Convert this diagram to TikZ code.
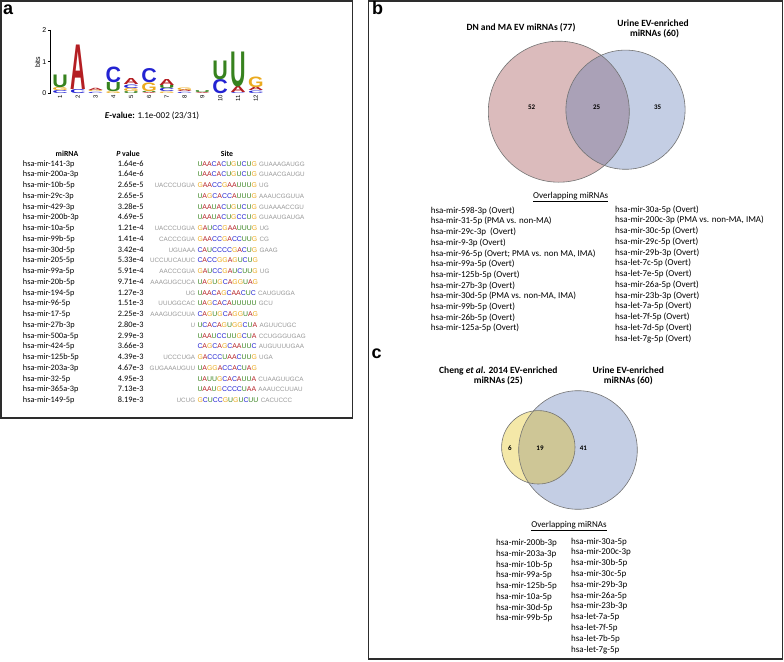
\documentclass[tikz,border=0pt]{standalone}
\usepackage{fontspec}
\setmainfont{Carlito}
\newfontfamily\arialfont{Liberation Sans}
\usepackage{graphicx}
\usepackage{tikz}

\definecolor{ntA}{RGB}{180,30,35}
\definecolor{ntC}{RGB}{35,35,210}
\definecolor{ntG}{RGB}{235,170,30}
\definecolor{ntU}{RGB}{55,130,30}
\definecolor{flank}{RGB}{150,150,150}
\definecolor{framegray}{RGB}{45,45,45}
\definecolor{vennpink}{RGB}{219,187,188}
\definecolor{vennblue}{RGB}{196,206,228}
\definecolor{vennmix}{RGB}{170,161,183}
\definecolor{vennyel}{RGB}{244,232,168}
\definecolor{vennolive}{RGB}{206,198,150}

% colour one nucleotide, then a whole site core
\newcommand\ntcol[1]{\ifx A#1\textcolor{ntA}{A}\else\ifx C#1\textcolor{ntC}{C}\else\ifx G#1\textcolor{ntG}{G}\else\textcolor{ntU}{#1}\fi\fi\fi}
\def\seqloop#1{\ifx\relax#1\else\ntcol{#1}\expandafter\seqloop\fi}
\newcommand\seqcore[1]{\expandafter\seqloop#1\relax}
\newcommand\flanktxt[1]{{\fontsize{6.3}{8}\selectfont\textcolor{flank}{#1}}}

% one logo column: index, letter/height pairs from the bottom
\newcommand\logocol[2]{%
  \xdef\ybase{93.3}%
  \foreach \l/\h in {#2}{%
    \node[logoletter, text=nt\l] (col#1-\l) at ({60+(#1-1)*17.8},\ybase) {\resizebox{15.5pt}{\h pt}{\l}};
    \pgfmathparse{\ybase-\h}\xdef\ybase{\pgfmathresult}%
  }%
}

\begin{document}
\begin{tikzpicture}[x=1pt,y=-1pt,
  panel/.style={draw=framegray, line width=1.6pt},
  tag/.style={anchor=base west, inner sep=0pt, font=\arialfont\bfseries\fontsize{18}{20}\selectfont},
  logoletter/.style={anchor=south, inner sep=0pt, text depth=0pt, font=\arialfont\bfseries},
  posnum/.style={anchor=east, rotate=90, inner sep=0pt, font=\arialfont\fontsize{6}{7}\selectfont},
  axlabel/.style={inner sep=0pt, font=\arialfont\fontsize{7}{8}\selectfont},
  tabtxt/.style={anchor=base west, inner sep=0pt, font=\fontsize{8.3}{10}\selectfont},
  tabhead/.style={anchor=base, inner sep=0pt, font=\bfseries\fontsize{7.8}{9}\selectfont},
  seqtxt/.style={anchor=base west, inner sep=0pt, font=\arialfont\fontsize{6.9}{8}\selectfont},
  venntitle/.style={anchor=base, inner sep=0pt, font=\bfseries\fontsize{9.5}{11}\selectfont},
  vennnum/.style={inner sep=0pt, font=\bfseries\fontsize{7}{8}\selectfont},
  vennline/.style={draw=black!55, line width=0.6pt},
  listhead/.style={anchor=base, inner sep=0pt, font=\fontsize{9}{11}\selectfont},
  listtxt/.style={anchor=base west, inner sep=0pt, font=\fontsize{9}{10.7}\selectfont}
]
\useasboundingbox (0,0) rectangle (784,661);

% frames
\draw[panel] (1.2,1.2) rectangle (352.3,417.7);
\draw[panel] (368.3,1.2) rectangle (782.3,659);
\node[tag] (taga) at (3,14.5) {a};
\node[tag] (tagb) at (372,14.5) {b};
\node[tag] (tagc) at (371.5,358.3) {c};

% a: motif logo
\draw[line width=0.8pt] (50.5,30) -- (50.5,93.3);
\foreach \b in {0,1,2}{
  \draw[line width=0.6pt] (50.5,{93.3-\b*31.65}) -- ++(-3,0);
  \node[axlabel, anchor=east] (tick\b) at (46.5,{93.3-\b*31.65}) {\b};
}
\node[axlabel, rotate=90] (bits) at (37.5,62) {bits};
\logocol{1}{C/3, G/3, U/12.5}
\logocol{2}{C/4, A/44.5}
\logocol{3}{C/1.2, G/1.3, A/2.2}
\logocol{4}{G/1.8, U/9, C/15.5}
\logocol{5}{U/1.8, G/3, C/3.5, A/6}
\logocol{6}{A/1, U/1, G/8.5, C/14}
\logocol{7}{G/1.5, C/3.3, U/3.3, A/6}
\logocol{8}{C/1.2, A/1.8, G/2.5}
\logocol{9}{A/1, U/1.8}
\logocol{10}{C/14, U/18.5}
\logocol{11}{C/1, A/6, U/34.5}
\logocol{12}{C/2.5, A/3.5, G/10.5}
\foreach \i in {1,...,12}
  \node[posnum] (pos\i) at ({60+(\i-1)*17.8},95) {\i};
\node[tabtxt, anchor=base, font=\fontsize{9}{11}\selectfont] (evalue) at (152,118.5)
  {\textbf{\textit{E}-value:} 1.1e-002 (23/31)};

% a: site table
\node[tabhead] (hmir) at (67,156) {miRNA};
\node[tabhead] (hpv) at (128,156) {\textit{P} value};
\node[tabhead] (hsite) at (227,156) {Site};
\foreach \nm/\pv/\lfl/\cor/\rfl [count=\i] in {
  hsa-mir-141-3p/1.64e-6//UAACACUGUCUG/GUAAAGAUGG,
  hsa-mir-200a-3p/1.64e-6//UAACACUGUCUG/GUAACGAUGU,
  hsa-mir-10b-5p/2.65e-5/UACCCUGUA/GAACCGAAUUUG/UG,
  hsa-mir-29c-3p/2.65e-5//UAGCACCAUUUG/AAAUCGGUUA,
  hsa-mir-429-3p/3.28e-5//UAAUACUGUCUG/GUAAAACCGU,
  hsa-mir-200b-3p/4.69e-5//UAAUACUGCCUG/GUAAUGAUGA,
  hsa-mir-10a-5p/1.21e-4/UACCCUGUA/GAUCCGAAUUUG/UG,
  hsa-mir-99b-5p/1.41e-4/CACCCGUA/GAACCGACCUUG/CG,
  hsa-mir-30d-5p/3.42e-4/UGUAAA/CAUCCCCGACUG/GAAG,
  hsa-mir-205-5p/5.33e-4/UCCUUCAUUC/CACCGGAGUCUG/,
  hsa-mir-99a-5p/5.91e-4/AACCCGUA/GAUCCGAUCUUG/UG,
  hsa-mir-20b-5p/9.71e-4/AAAGUGCUCA/UAGUGCAGGUAG/,
  hsa-mir-194-5p/1.27e-3/UG/UAACAGCAACUC/CAUGUGGA,
  hsa-mir-96-5p/1.51e-3/UUUGGCAC/UAGCACAUUUUU/GCU,
  hsa-mir-17-5p/2.25e-3/AAAGUGCUUA/CAGUGCAGGUAG/,
  hsa-mir-27b-3p/2.80e-3/U/UCACAGUGGCUA/AGUUCUGC,
  hsa-mir-500a-5p/2.99e-3//UAAUCCUUGCUA/CCUGGGUGAG,
  hsa-mir-424-5p/3.66e-3//CAGCAGCAAUUC/AUGUUUUGAA,
  hsa-mir-125b-5p/4.39e-3/UCCCUGA/GACCCUAACUUG/UGA,
  hsa-mir-203a-3p/4.67e-3/GUGAAAUGUU/UAGGACCACUAG/,
  hsa-mir-32-5p/4.95e-3//UAUUGCACAUUA/CUAAGUUGCA,
  hsa-mir-365a-3p/7.13e-3//UAAUGCCCCUAA/AAAUCCUUAU,
  hsa-mir-149-5p/8.19e-3/UCUG/GCUCCGUGUCUU/CACUCCC}{
  \pgfmathsetmacro\yb{166+(\i-1)*10.76}
  \node[tabtxt] (mir\i) at (22.7,\yb) {\nm};
  \node[tabtxt] (pv\i) at (117.7,\yb) {\pv};
  \node[seqtxt] (site\i) at (197.3,\yb)
    {\llap{\flanktxt{\lfl}\hspace{2.3pt}}\seqcore{\cor}\hspace{2.3pt}\flanktxt{\rfl}};
}

% b: venn
\coordinate (pinkc) at (558.8,111.7);
\coordinate (bluec) at (625.5,109.7);
\fill[vennpink] (pinkc) circle (70.5pt);
\fill[vennblue] (bluec) circle (59.6pt);
\begin{scope}
  \clip (pinkc) circle (70.5pt);
  \fill[vennmix] (bluec) circle (59.6pt);
\end{scope}
\draw[vennline] (pinkc) circle (70.5pt);
\draw[vennline] (bluec) circle (59.6pt);
\node[venntitle] (btitle1) at (521,30.5) {DN and MA EV miRNAs (77)};
\node[venntitle] (btitle2) at (653,26.5) {Urine EV-enriched};
\node[venntitle] (btitle3) at (654.5,36.5) {miRNAs (60)};
\node[vennnum] (b52) at (531.7,107.2) {52};
\node[vennnum] (b25) at (596.7,107.2) {25};
\node[vennnum] (b35) at (657.7,107.2) {35};
\node[listhead] (bhead) at (570.7,198) {\underline{Overlapping miRNAs}};
\foreach \t [count=\i] in {hsa-mir-598-3p (Overt), hsa-mir-31-5p (PMA vs. non-MA),
  hsa-mir-29c-3p\ \ (Overt), hsa-mir-9-3p (Overt), {hsa-mir-96-5p (Overt; PMA vs. non MA, IMA)},
  hsa-mir-99a-5p (Overt), hsa-mir-125b-5p (Overt), hsa-mir-27b-3p (Overt),
  {hsa-mir-30d-5p (PMA vs. non-MA, IMA)}, hsa-mir-99b-5p (Overt), hsa-mir-26b-5p (Overt),
  hsa-mir-125a-5p (Overt)}
  \node[listtxt] (bl\i) at (430.7,{213.3+(\i-1)*10.69}) {\t};
\foreach \t [count=\i] in {hsa-mir-30a-5p (Overt), {hsa-mir-200c-3p (PMA vs. non-MA, IMA)},
  hsa-mir-30c-5p (Overt), hsa-mir-29c-5p (Overt), hsa-mir-29b-3p (Overt), hsa-let-7c-5p (Overt),
  hsa-let-7e-5p (Overt), hsa-mir-26a-5p (Overt), hsa-mir-23b-3p (Overt), hsa-let-7a-5p (Overt),
  hsa-let-7f-5p (Overt), hsa-let-7d-5p (Overt), hsa-let-7g-5p (Overt)}
  \node[listtxt] (br\i) at (615,{212+(\i-1)*10.75}) {\t};

% c: venn
\coordinate (bigc) at (578,450);
\coordinate (yelc) at (538.3,447.3);
\fill[vennblue] (bigc) circle (59.3pt);
\fill[vennyel] (yelc) circle (36.7pt);
\begin{scope}
  \clip (yelc) circle (36.7pt);
  \fill[vennolive] (bigc) circle (59.3pt);
\end{scope}
\draw[vennline] (bigc) circle (59.3pt);
\draw[vennline] (yelc) circle (36.7pt);
\node[venntitle] (ctitle1) at (498.3,373) {Cheng \textit{et al.} 2014 EV-enriched};
\node[venntitle] (ctitle2) at (498.3,383) {miRNAs (25)};
\node[venntitle] (ctitle3) at (628.3,373) {Urine EV-enriched};
\node[venntitle] (ctitle4) at (628.3,383) {miRNAs (60)};
\node[vennnum] (c6) at (510,448.3) {6};
\node[vennnum] (c19) at (540,448.3) {19};
\node[vennnum] (c41) at (583.3,448.3) {41};
\node[listhead] (chead) at (569,527) {\underline{Overlapping miRNAs}};
\foreach \t [count=\i] in {hsa-mir-200b-3p, hsa-mir-203a-3p, hsa-mir-10b-5p, hsa-mir-99a-5p,
  hsa-mir-125b-5p, hsa-mir-10a-5p, hsa-mir-30d-5p, hsa-mir-99b-5p}
  \node[listtxt] (cl\i) at (496,{545.5+(\i-1)*10.77}) {\t};
\foreach \t [count=\i] in {hsa-mir-30a-5p, hsa-mir-200c-3p, hsa-mir-30b-5p, hsa-mir-30c-5p,
  hsa-mir-29b-3p, hsa-mir-26a-5p, hsa-mir-23b-3p, hsa-let-7a-5p, hsa-let-7f-5p,
  hsa-let-7b-5p, hsa-let-7g-5p}
  \node[listtxt] (cr\i) at (571,{544+(\i-1)*10.8}) {\t};
\end{tikzpicture}
\end{document}
